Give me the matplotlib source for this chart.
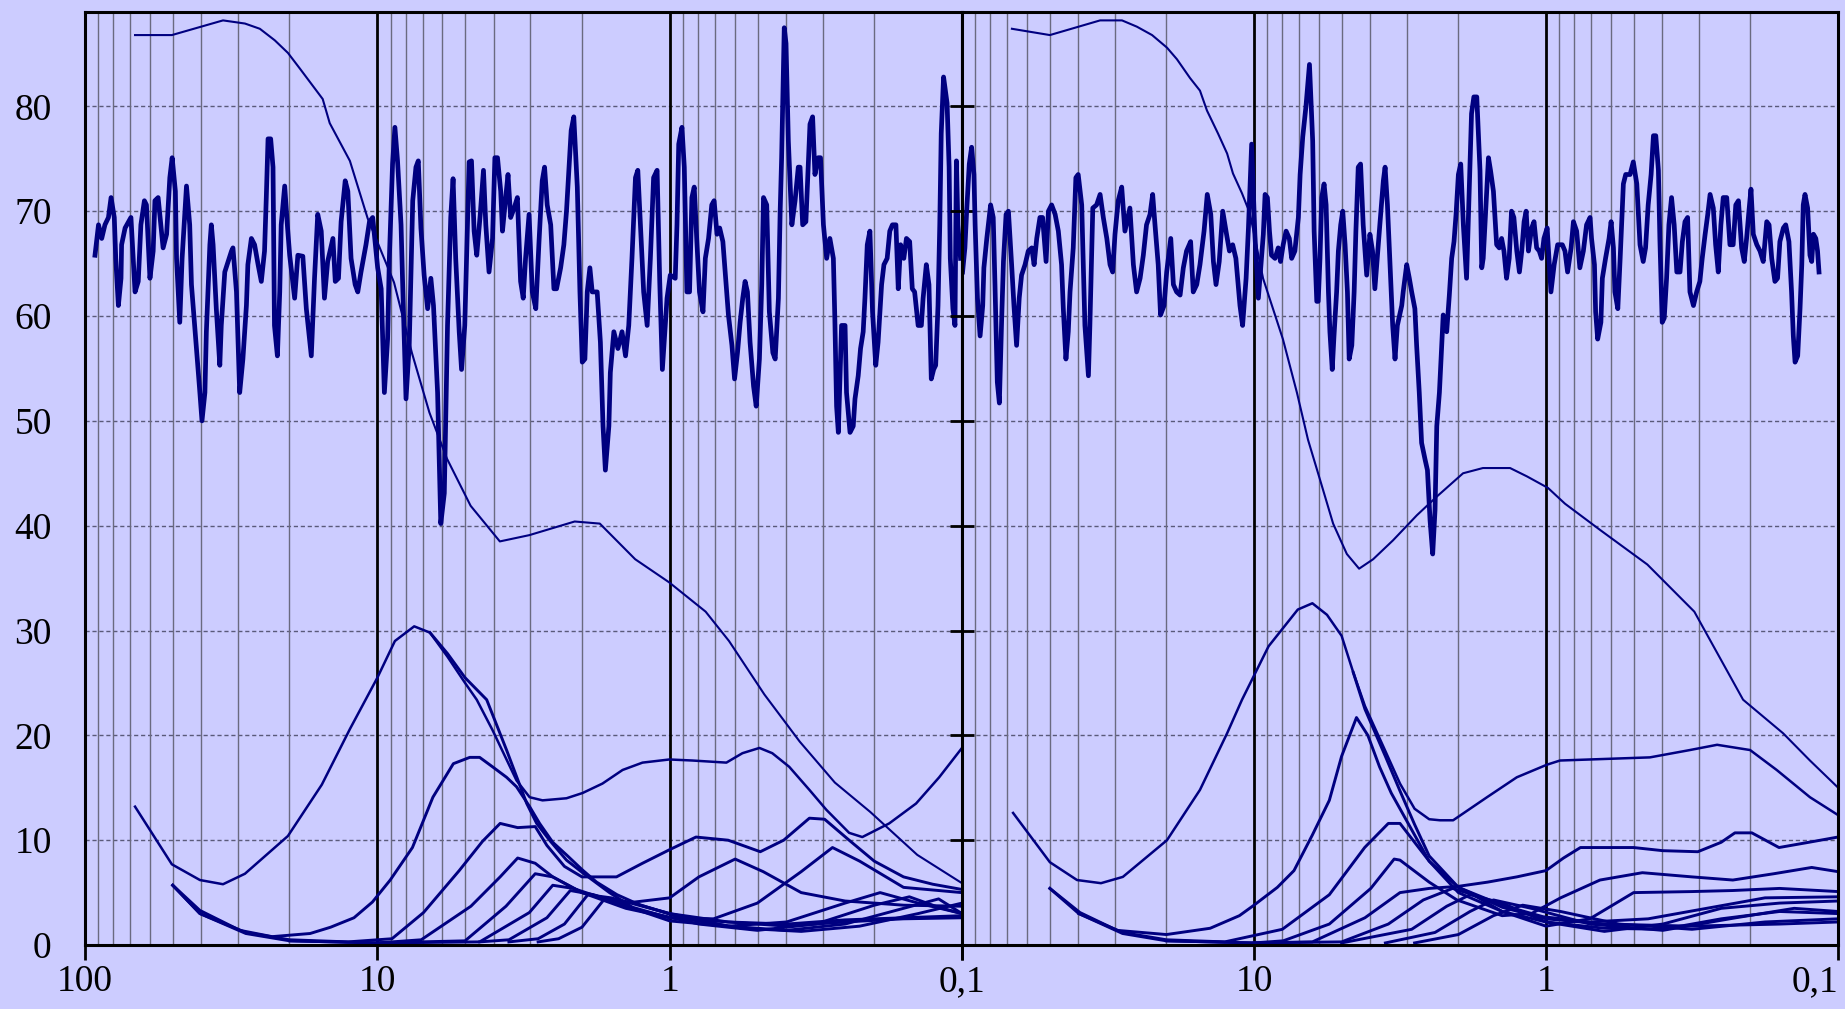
import matplotlib
matplotlib.use('Agg')
import matplotlib.pyplot as plt
import numpy as np

plt.rcParams['font.family'] = ['Liberation Serif', 'DejaVu Serif']

BG = '#CCCCFF'
NAVY = '#000080'

# all series: (log10 of x, value)
noise_left = [
    (1.966, 65.8), (1.954, 68.7), (1.943, 67.4), (1.932, 68.7), (1.920, 69.4), (1.911, 71.3), (1.900, 69.4),
    (1.895, 65.5), (1.886, 61.0), (1.877, 63.6), (1.875, 66.8), (1.863, 68.4), (1.843, 69.4), (1.829, 62.3),
    (1.818, 63.3), (1.809, 68.7), (1.797, 71.0), (1.790, 70.6), (1.778, 63.6), (1.767, 66.2), (1.761, 71.0),
    (1.750, 71.3), (1.733, 66.5), (1.721, 67.8), (1.710, 73.2), (1.702, 75.1), (1.691, 71.9), (1.687, 65.5),
    (1.676, 59.4), (1.668, 65.5), (1.653, 72.4), (1.642, 68.7), (1.636, 63.0), (1.625, 59.1), (1.608, 53.0),
    (1.600, 50.0), (1.590, 52.7), (1.585, 58.5), (1.573, 66.8), (1.568, 68.7), (1.562, 66.8), (1.551, 60.7),
    (1.539, 55.3), (1.534, 59.1), (1.522, 64.2), (1.499, 66.2), (1.494, 66.5), (1.482, 62.3), (1.471, 52.7),
    (1.460, 55.9), (1.448, 61.0), (1.443, 64.9), (1.431, 67.4), (1.420, 66.8), (1.408, 64.9), (1.397, 63.3),
    (1.386, 66.2), (1.380, 71.3), (1.374, 76.9), (1.365, 76.9), (1.357, 74.2), (1.352, 59.1), (1.342, 56.2),
    (1.334, 62.3), (1.329, 68.7), (1.317, 72.4), (1.308, 68.7), (1.300, 65.8), (1.283, 61.7), (1.272, 65.8),
    (1.255, 65.7), (1.243, 60.7), (1.226, 56.2), (1.215, 63.6), (1.204, 69.7), (1.192, 68.1), (1.181, 61.7),
    (1.170, 65.2), (1.152, 67.4), (1.144, 63.3), (1.133, 63.6), (1.124, 69.0), (1.110, 72.9), (1.101, 71.9),
    (1.090, 65.5), (1.076, 63.0), (1.067, 62.3), (1.056, 64.2), (1.039, 66.8), (1.027, 69.0), (1.016, 69.4),
    (0.999, 64.6), (0.987, 62.6), (0.976, 52.7), (0.965, 57.8), (0.959, 65.5), (0.948, 74.5), (0.940, 78.0),
    (0.931, 74.8), (0.919, 68.7), (0.914, 63.6), (0.902, 52.1), (0.891, 57.2), (0.879, 71.0), (0.868, 74.2),
    (0.860, 74.8), (0.851, 68.4), (0.840, 63.9), (0.828, 60.7), (0.817, 63.6), (0.808, 61.0), (0.794, 52.7),
    (0.783, 40.2), (0.771, 43.1), (0.760, 59.1), (0.749, 69.4), (0.741, 73.1), (0.732, 65.5), (0.720, 58.5),
    (0.712, 54.9), (0.701, 59.1), (0.692, 68.7), (0.686, 74.7), (0.678, 74.8), (0.669, 68.1), (0.660, 65.8),
    (0.648, 69.7), (0.637, 73.9), (0.629, 68.7), (0.618, 64.2), (0.606, 67.4), (0.598, 75.1), (0.589, 75.1),
    (0.578, 71.9), (0.572, 68.1), (0.561, 71.3), (0.553, 73.5), (0.544, 69.4), (0.532, 70.3), (0.521, 71.3),
    (0.510, 63.3), (0.501, 61.7), (0.493, 65.5), (0.481, 69.7), (0.470, 62.3), (0.458, 60.7), (0.447, 67.1),
    (0.436, 72.9), (0.428, 74.2), (0.419, 70.6), (0.407, 68.7), (0.396, 62.6), (0.387, 62.6), (0.373, 64.6),
    (0.362, 66.8), (0.353, 70.0), (0.345, 73.9), (0.337, 77.7), (0.328, 79.0), (0.316, 72.3), (0.307, 62.3),
    (0.299, 55.6), (0.290, 55.9), (0.282, 62.3), (0.273, 64.6), (0.265, 62.3), (0.248, 62.3), (0.237, 57.5),
    (0.228, 49.5), (0.220, 45.3), (0.208, 49.5), (0.203, 54.6), (0.191, 58.5), (0.177, 56.9), (0.163, 58.5),
    (0.151, 56.2), (0.140, 59.1), (0.129, 65.5), (0.117, 73.2), (0.109, 73.9), (0.100, 68.7), (0.089, 62.3),
    (0.077, 59.1), (0.066, 65.5), (0.055, 73.2), (0.043, 73.9), (0.034, 63.3), (0.025, 54.9),
    (0.009, 61.7), (-0.002, 63.9), (-0.019, 63.6), (-0.025, 68.7), (-0.031, 76.4), (-0.042, 78.0),
    (-0.050, 74.2), (-0.059, 62.3), (-0.068, 62.3), (-0.076, 71.3), (-0.084, 72.3), (-0.093, 67.1),
    (-0.102, 62.3), (-0.114, 60.4), (-0.122, 65.5), (-0.133, 67.4), (-0.144, 70.6), (-0.152, 71.0),
    (-0.162, 67.8), (-0.171, 68.4), (-0.182, 67.1), (-0.190, 64.2), (-0.201, 60.1), (-0.213, 57.2),
    (-0.222, 54.0), (-0.232, 56.5), (-0.241, 59.4), (-0.250, 61.7), (-0.258, 63.3), (-0.266, 62.3),
    (-0.275, 57.5), (-0.287, 53.3), (-0.296, 51.4), (-0.307, 55.9), (-0.315, 63.0), (-0.321, 71.3),
    (-0.332, 70.6), (-0.341, 60.4), (-0.353, 56.5), (-0.361, 55.9), (-0.372, 61.7), (-0.378, 70.0),
    (-0.383, 75.1), (-0.392, 87.5), (-0.398, 86.0), (-0.406, 76.7), (-0.418, 68.7), (-0.429, 71.0),
    (-0.440, 74.2), (-0.446, 74.2), (-0.455, 68.7), (-0.466, 69.0), (-0.480, 78.3), (-0.489, 79.0),
    (-0.497, 73.5), (-0.508, 75.1), (-0.516, 75.1), (-0.526, 68.7), (-0.537, 65.5), (-0.548, 67.4),
    (-0.560, 65.5), (-0.565, 59.8), (-0.571, 51.4), (-0.577, 48.9), (-0.588, 59.1), (-0.600, 59.1),
    (-0.605, 52.7), (-0.617, 48.9), (-0.628, 49.5), (-0.634, 52.1), (-0.645, 54.3), (-0.653, 56.9),
    (-0.662, 58.5), (-0.668, 61.7), (-0.676, 66.8), (-0.685, 68.1), (-0.694, 60.4), (-0.705, 55.3),
    (-0.713, 57.5), (-0.725, 63.0), (-0.733, 64.9), (-0.744, 65.5), (-0.753, 68.1), (-0.762, 68.7),
    (-0.774, 68.7), (-0.782, 62.6), (-0.790, 66.8), (-0.801, 65.5), (-0.810, 67.4), (-0.821, 67.1),
    (-0.830, 62.6), (-0.838, 62.3), (-0.850, 59.1), (-0.861, 59.1), (-0.867, 61.7), (-0.878, 64.9),
    (-0.887, 63.0), (-0.895, 54.0), (-0.903, 54.9), (-0.910, 55.3), (-0.918, 61.0), (-0.924, 68.7),
    (-0.929, 77.4), (-0.937, 82.8), (-0.949, 80.3), (-0.956, 74.2), (-0.960, 65.5), (-0.969, 60.7),
    (-0.976, 59.1), (-0.981, 74.8), (-0.986, 68.7), (-0.995, 65.5),
]

noise_right = [
    (1.998, 64.2), (1.990, 66.5), (1.984, 70.0), (1.975, 74.5), (1.967, 76.1), (1.959, 73.5), (1.955, 68.7),
    (1.947, 61.7), (1.938, 58.1), (1.929, 61.0), (1.925, 64.6), (1.915, 67.4), (1.902, 70.6), (1.893, 69.4),
    (1.887, 63.0), (1.879, 53.7), (1.872, 51.7), (1.864, 59.8), (1.858, 65.2), (1.849, 69.7), (1.841, 70.0),
    (1.830, 64.9), (1.822, 61.0), (1.813, 57.2), (1.804, 61.7), (1.796, 63.9), (1.784, 64.9), (1.773, 66.2),
    (1.761, 66.5), (1.753, 64.9), (1.744, 67.4), (1.733, 69.4), (1.724, 69.4), (1.712, 65.2), (1.704, 70.0),
    (1.693, 70.6), (1.681, 69.7), (1.670, 68.1), (1.659, 64.9), (1.653, 60.7), (1.644, 55.9), (1.636, 58.5),
    (1.630, 62.3), (1.619, 66.5), (1.610, 73.2), (1.602, 73.5), (1.590, 70.6), (1.579, 59.1), (1.567, 54.3),
    (1.562, 59.1), (1.552, 70.3), (1.539, 70.6), (1.527, 71.6), (1.516, 69.4), (1.504, 67.4), (1.493, 64.9),
    (1.484, 64.2), (1.476, 67.8), (1.465, 71.0), (1.453, 72.3), (1.442, 68.1), (1.425, 70.3), (1.413, 64.9),
    (1.402, 62.3), (1.390, 63.6), (1.379, 65.8), (1.368, 68.7), (1.356, 69.7), (1.347, 71.6), (1.339, 68.7),
    (1.328, 64.9), (1.320, 60.1), (1.308, 61.0), (1.299, 64.2), (1.285, 67.4), (1.276, 63.0), (1.265, 62.3),
    (1.253, 62.0), (1.242, 64.6), (1.231, 66.2), (1.217, 67.1), (1.208, 62.3), (1.196, 63.0), (1.185, 64.9),
    (1.171, 68.1), (1.160, 71.6), (1.148, 69.7), (1.139, 65.2), (1.130, 63.0), (1.119, 65.2), (1.107, 70.0),
    (1.094, 67.8), (1.084, 66.2), (1.073, 66.8), (1.062, 65.5), (1.048, 61.0), (1.039, 59.1), (1.027, 63.6),
    (1.019, 68.4), (1.008, 76.4),
    (0.997, 67.8), (0.985, 61.7), (0.977, 64.6), (0.968, 67.8), (0.962, 71.6), (0.954, 71.3), (0.947, 68.1),
    (0.940, 65.8), (0.928, 65.5), (0.917, 66.5), (0.909, 65.2), (0.900, 66.8), (0.890, 68.1), (0.879, 67.4),
    (0.871, 65.5), (0.860, 66.2), (0.848, 69.4), (0.842, 73.5), (0.833, 77.1), (0.822, 80.0), (0.810, 84.0),
    (0.799, 76.7), (0.794, 68.1), (0.785, 61.4), (0.780, 61.4), (0.774, 65.5), (0.768, 71.3), (0.760, 72.6),
    (0.753, 70.6), (0.745, 62.3), (0.740, 58.5), (0.732, 54.9), (0.726, 58.1), (0.717, 62.3), (0.711, 66.2),
    (0.703, 68.7), (0.696, 70.0), (0.688, 66.8), (0.680, 62.3), (0.674, 55.9), (0.665, 57.2), (0.657, 62.3),
    (0.651, 68.1), (0.643, 74.2), (0.635, 74.5), (0.626, 68.7), (0.614, 63.9), (0.603, 67.8), (0.594, 66.2),
    (0.586, 62.6), (0.578, 65.5), (0.569, 68.7), (0.557, 72.9), (0.551, 74.2), (0.543, 70.6), (0.534, 64.9),
    (0.525, 59.1), (0.517, 55.9), (0.509, 59.1), (0.494, 61.0), (0.489, 62.3), (0.477, 64.9), (0.468, 63.6),
    (0.460, 62.3), (0.449, 60.7), (0.443, 57.2), (0.434, 52.7), (0.426, 47.9), (0.414, 46.3), (0.406, 45.3),
    (0.397, 40.5), (0.388, 37.3), (0.380, 41.5), (0.374, 49.5), (0.365, 52.7), (0.357, 57.2), (0.352, 60.1),
    (0.340, 58.5), (0.331, 62.0), (0.323, 65.5), (0.315, 67.1), (0.308, 69.7), (0.300, 73.5), (0.292, 74.5),
    (0.283, 68.7), (0.272, 63.6), (0.263, 71.9), (0.255, 79.3), (0.247, 80.9), (0.237, 80.9), (0.226, 73.9),
    (0.220, 64.6), (0.215, 65.5), (0.206, 70.3), (0.197, 75.1), (0.190, 73.9), (0.180, 71.9), (0.169, 66.8),
    (0.160, 66.5), (0.152, 67.4), (0.144, 66.2), (0.135, 63.6), (0.126, 65.5), (0.118, 70.0), (0.110, 69.4),
    (0.100, 66.2), (0.091, 64.2), (0.083, 66.2), (0.075, 69.0), (0.068, 70.0), (0.060, 66.2), (0.049, 68.4),
    (0.041, 69.0), (0.032, 66.5), (0.023, 66.2), (0.015, 65.5), (0.007, 67.4), (-0.004, 68.4),
    (-0.017, 62.3), (-0.028, 64.9), (-0.040, 66.8), (-0.056, 66.8), (-0.065, 66.2), (-0.074, 64.2),
    (-0.086, 66.5), (-0.094, 69.0), (-0.105, 68.1), (-0.116, 64.6), (-0.128, 66.2), (-0.139, 68.7),
    (-0.151, 69.4), (-0.156, 67.4), (-0.166, 64.9), (-0.170, 60.4), (-0.177, 57.8), (-0.188, 59.4),
    (-0.193, 63.6), (-0.204, 65.5), (-0.216, 67.4), (-0.223, 69.0), (-0.231, 66.5), (-0.236, 62.3),
    (-0.246, 60.7), (-0.254, 65.5), (-0.265, 72.6), (-0.273, 73.5), (-0.288, 73.5), (-0.299, 74.7),
    (-0.311, 72.6), (-0.322, 66.8), (-0.333, 65.2), (-0.341, 66.5), (-0.350, 70.6), (-0.360, 73.5),
    (-0.368, 77.2), (-0.376, 77.2), (-0.385, 73.9), (-0.390, 67.4), (-0.398, 59.4), (-0.405, 59.8),
    (-0.413, 63.6), (-0.421, 68.7), (-0.430, 71.3), (-0.439, 68.7), (-0.448, 64.2), (-0.459, 64.2),
    (-0.467, 67.1), (-0.476, 69.0), (-0.485, 69.4), (-0.493, 62.3), (-0.505, 61.0), (-0.516, 62.3),
    (-0.527, 63.3), (-0.535, 65.5), (-0.545, 67.8), (-0.554, 69.7), (-0.562, 71.6), (-0.573, 70.3),
    (-0.581, 66.8), (-0.590, 64.2), (-0.599, 68.7), (-0.607, 71.3), (-0.619, 71.3), (-0.630, 66.8),
    (-0.641, 66.8), (-0.650, 70.6), (-0.659, 71.0), (-0.670, 66.5), (-0.679, 65.2), (-0.687, 67.4),
    (-0.695, 70.0), (-0.702, 72.1), (-0.710, 67.8), (-0.722, 66.8), (-0.733, 66.2), (-0.744, 65.2),
    (-0.756, 69.0), (-0.764, 68.7), (-0.773, 65.5), (-0.784, 63.3), (-0.793, 63.6), (-0.801, 67.1),
    (-0.813, 68.4), (-0.821, 68.7), (-0.832, 67.1), (-0.841, 62.3), (-0.847, 58.1), (-0.853, 55.6),
    (-0.862, 56.2), (-0.870, 60.7), (-0.876, 64.9), (-0.881, 70.6), (-0.887, 71.6), (-0.896, 70.3),
    (-0.904, 65.8), (-0.910, 65.2), (-0.916, 67.8), (-0.924, 67.4), (-0.930, 66.2), (-0.935, 64.2),
]

# smooth curves, left panel
big_left = [(1.829, 86.8), (1.703, 86.8), (1.528, 88.2), (1.453, 87.9), (1.402, 87.4), (1.351, 86.3),
            (1.306, 85.1), (1.265, 83.6), (1.187, 80.7), (1.163, 78.4), (1.094, 74.8), (1.033, 69.3),
            (0.943, 63.2), (0.882, 56.5), (0.822, 50.8), (0.762, 46.4), (0.681, 41.9), (0.581, 38.5),
            (0.480, 39.1), (0.325, 40.4), (0.239, 40.2), (0.118, 36.8), (0.002, 34.6), (-0.123, 31.8),
            (-0.203, 29.0), (-0.324, 23.9), (-0.445, 19.4), (-0.565, 15.5), (-0.686, 12.7), (-0.847, 8.6),
            (-1.0, 5.9)]
mode1_left = [(1.829, 13.2), (1.703, 7.7), (1.607, 6.2), (1.528, 5.8), (1.453, 6.8), (1.306, 10.4),
              (1.190, 15.3), (1.094, 20.6), (1.0, 25.5), (0.94, 29.0), (0.874, 30.4), (0.82, 29.8),
              (0.76, 27.5), (0.70, 25.0), (0.660, 23.4), (0.606, 20.5), (0.524, 15.7), (0.479, 14.1),
              (0.435, 13.8), (0.353, 14.0), (0.298, 14.5), (0.230, 15.4), (0.161, 16.7), (0.093, 17.4),
              (0.001, 17.7), (-0.078, 17.6), (-0.194, 17.4), (-0.249, 18.3), (-0.307, 18.8), (-0.351, 18.3),
              (-0.409, 17.0), (-0.478, 14.8), (-0.536, 12.9), (-0.614, 10.7), (-0.659, 10.3), (-0.751, 11.6),
              (-0.843, 13.5), (-0.922, 16.0), (-1.0, 18.8)]
mode1b_left = [(0.82, 29.8), (0.76, 27.8), (0.70, 25.5), (0.626, 23.4), (0.558, 18.6), (0.489, 13.5),
               (0.455, 11.6), (0.411, 10.0), (0.353, 8.1), (0.298, 6.9), (0.206, 5.0), (0.127, 3.6),
               (0.001, 2.6), (-0.2, 2.2), (-0.4, 2.0), (-0.6, 2.4), (-0.8, 2.6), (-1.0, 2.8)]
mode2_left = [(1.700, 5.7), (1.607, 3.3), (1.47, 1.4), (1.36, 0.8), (1.23, 1.1), (1.16, 1.7), (1.08, 2.6),
              (1.017, 4.1), (0.956, 6.2), (0.88, 9.3), (0.81, 14.1), (0.74, 17.3), (0.684, 17.9),
              (0.65, 17.9), (0.606, 17.0), (0.558, 16.0), (0.524, 15.1), (0.479, 13.2), (0.445, 11.6),
              (0.40, 9.8), (0.353, 8.6), (0.30, 7.2), (0.25, 6.0), (0.18, 4.8), (0.10, 3.8), (0.0, 3.0),
              (-0.2, 2.2), (-0.4, 1.8), (-0.6, 2.2), (-0.8, 2.5), (-1.0, 2.6)]
mode3_left = [(1.700, 5.7), (1.607, 3.0), (1.45, 1.2), (1.30, 0.5), (1.1, 0.3), (0.95, 0.6), (0.842, 3.1),
              (0.72, 7.1), (0.64, 9.9), (0.58, 11.6), (0.52, 11.2), (0.46, 11.3), (0.42, 9.5), (0.36, 7.5),
              (0.30, 6.5), (0.182, 6.5), (0.093, 7.8), (0.0, 9.1), (-0.09, 10.3), (-0.20, 10.0),
              (-0.31, 8.9), (-0.39, 10.0), (-0.478, 12.1), (-0.53, 12.0), (-0.614, 10.0), (-0.70, 8.0),
              (-0.8, 6.5), (-0.9, 5.8), (-1.0, 5.3)]
mode4_left = [(1.700, 5.7), (1.607, 3.0), (1.45, 1.1), (1.30, 0.4), (1.0, 0.2), (0.85, 0.5), (0.68, 3.7),
              (0.58, 6.5), (0.52, 8.3), (0.46, 7.8), (0.40, 6.5), (0.30, 5.0), (0.15, 4.0), (0.0, 4.5),
              (-0.1, 6.5), (-0.224, 8.2), (-0.32, 7.0), (-0.45, 5.0), (-0.6, 4.2), (-0.8, 3.8), (-1.0, 3.7)]
mode5_left = [(1.30, 0.4), (1.0, 0.2), (0.70, 0.4), (0.56, 3.7), (0.46, 6.8), (0.40, 6.5), (0.30, 5.0),
              (0.15, 3.5), (0.0, 2.6), (-0.15, 2.5), (-0.3, 4.0), (-0.45, 7.0), (-0.557, 9.3), (-0.65, 8.0),
              (-0.8, 5.5), (-1.0, 5.0)]
mode6_left = [(1.0, 0.2), (0.65, 0.3), (0.48, 3.1), (0.40, 5.7), (0.33, 5.4), (0.2, 4.2), (0.0, 2.3),
              (-0.2, 1.8), (-0.4, 2.2), (-0.6, 4.0), (-0.72, 5.0), (-0.85, 4.0), (-1.0, 3.0)]
mode7_left = [(0.65, 0.3), (0.55, 0.5), (0.42, 2.6), (0.34, 5.2), (0.26, 4.8), (0.1, 3.3), (-0.1, 2.0),
              (-0.3, 1.4), (-0.5, 2.0), (-0.7, 3.8), (-0.82, 4.6), (-0.92, 3.6), (-1.0, 3.0)]
mode8_left = [(0.55, 0.3), (0.45, 0.6), (0.36, 2.0), (0.28, 4.8), (0.2, 4.5), (0.0, 3.0), (-0.2, 1.8),
              (-0.4, 1.4), (-0.6, 2.0), (-0.8, 3.5), (-0.92, 4.4), (-1.0, 3.0)]
mode9_left = [(0.45, 0.3), (0.38, 0.6), (0.30, 1.7), (0.22, 4.5), (0.12, 4.0), (-0.05, 2.5), (-0.25, 1.6),
              (-0.45, 1.3), (-0.65, 1.8), (-0.85, 3.0), (-1.0, 4.0)]

# smooth curves, right panel
big_right = [(1.829, 87.4), (1.699, 86.8), (1.527, 88.2), (1.452, 88.2), (1.401, 87.6), (1.349, 86.8),
             (1.298, 85.6), (1.264, 84.5), (1.219, 82.7), (1.185, 81.5), (1.161, 79.6), (1.123, 77.4),
             (1.092, 75.5), (1.072, 73.6), (1.041, 71.7), (1.014, 69.8), (0.969, 63.6), (0.901, 57.8),
             (0.853, 52.7), (0.815, 48.2), (0.774, 44.4), (0.729, 40.2), (0.682, 37.3), (0.640, 35.9),
             (0.592, 36.8), (0.524, 38.6), (0.442, 41.0), (0.373, 42.8), (0.284, 45.0), (0.216, 45.5),
             (0.123, 45.5), (0.065, 44.7), (-0.007, 43.6), (-0.065, 42.1), (-0.185, 39.6), (-0.347, 36.3),
             (-0.508, 31.8), (-0.675, 23.4), (-0.812, 20.2), (-0.904, 17.6), (-0.997, 15.1)]
mode1_right = [(1.825, 12.6), (1.699, 7.9), (1.606, 6.2), (1.524, 5.9), (1.449, 6.5), (1.298, 10.0),
               (1.185, 14.8), (1.092, 20.2), (1.041, 23.4), (0.95, 28.5), (0.85, 32.0), (0.80, 32.6),
               (0.75, 31.5), (0.70, 29.5), (0.66, 26.0), (0.62, 22.8), (0.55, 18.5), (0.50, 15.4),
               (0.45, 13.0), (0.40, 12.0), (0.363, 11.9), (0.318, 11.9), (0.202, 14.1), (0.10, 16.0),
               (-0.003, 17.2), (-0.048, 17.6), (-0.356, 17.9), (-0.493, 18.6), (-0.586, 19.1),
               (-0.699, 18.6), (-0.79, 16.7), (-0.904, 14.1), (-1.0, 12.4)]
mode1b_right = [(0.66, 26.0), (0.62, 22.5), (0.55, 18.0), (0.50, 14.7), (0.45, 11.5), (0.40, 8.5),
                (0.30, 5.5), (0.15, 3.6), (0.0, 2.5), (-0.2, 2.0), (-0.5, 1.8), (-0.8, 2.0), (-1.0, 2.2)]
mode2_right = [(1.699, 5.4), (1.596, 3.1), (1.469, 1.4), (1.30, 1.0), (1.15, 1.6), (1.05, 2.8), (1.0, 3.8),
               (0.92, 5.5), (0.863, 7.1), (0.80, 10.5), (0.742, 13.8), (0.70, 18.0), (0.649, 21.7),
               (0.61, 20.0), (0.57, 17.0), (0.53, 14.5), (0.50, 13.0), (0.45, 10.5), (0.40, 8.0),
               (0.30, 5.0), (0.15, 3.2), (0.0, 2.2), (-0.2, 1.6), (-0.4, 1.5), (-0.6, 2.5), (-0.8, 3.2),
               (-1.0, 3.0)]
mode3_right = [(1.699, 5.4), (1.60, 3.0), (1.45, 1.2), (1.3, 0.5), (1.1, 0.3), (0.903, 1.5), (0.742, 4.8),
               (0.621, 9.3), (0.54, 11.6), (0.50, 11.6), (0.40, 8.0), (0.30, 5.5), (0.15, 3.8),
               (0.01, 2.7), (-0.15, 2.2), (-0.35, 2.5), (-0.55, 3.5), (-0.75, 4.5), (-1.0, 4.6)]
mode4_right = [(1.60, 3.0), (1.45, 1.1), (1.3, 0.4), (1.0, 0.2), (0.90, 0.4), (0.742, 2.0), (0.60, 5.4),
               (0.52, 8.2), (0.50, 8.1), (0.40, 6.0), (0.305, 4.3), (0.15, 2.8), (0.05, 3.0), (-0.05, 4.5),
               (-0.185, 6.2), (-0.33, 6.9), (-0.5, 6.5), (-0.64, 6.2), (-0.78, 6.8), (-0.91, 7.4),
               (-1.0, 7.0)]
mode5_right = [(1.3, 0.4), (1.0, 0.2), (0.80, 0.3), (0.62, 2.6), (0.50, 5.0), (0.40, 5.4), (0.30, 5.6),
               (0.20, 6.0), (0.10, 6.5), (0.0, 7.1), (-0.06, 8.3), (-0.118, 9.3), (-0.30, 9.3), (-0.40, 9.0),
               (-0.52, 8.9), (-0.60, 9.8), (-0.647, 10.7), (-0.705, 10.7), (-0.798, 9.3), (-0.90, 9.8),
               (-1.0, 10.3)]
mode6_right = [(1.0, 0.2), (0.70, 0.3), (0.54, 2.0), (0.42, 4.3), (0.32, 5.4), (0.25, 4.8), (0.15, 3.2),
               (0.0, 1.8), (-0.15, 2.5), (-0.30, 5.0), (-0.50, 5.1), (-0.64, 5.2), (-0.80, 5.4), (-1.0, 5.1)]
mode7_right = [(0.70, 0.2), (0.46, 1.5), (0.34, 3.7), (0.26, 4.8), (0.15, 4.0), (0.0, 2.2), (-0.2, 1.3),
               (-0.4, 2.0), (-0.6, 3.5), (-0.8, 4.0), (-1.0, 4.2)]
mode8_right = [(0.55, 0.2), (0.38, 1.2), (0.26, 3.2), (0.18, 4.3), (0.05, 3.5), (-0.15, 2.0), (-0.4, 1.4),
               (-0.65, 2.6), (-0.85, 3.5), (-1.0, 3.2)]
mode9_right = [(0.45, 0.2), (0.30, 1.0), (0.18, 2.8), (0.08, 3.8), (-0.05, 3.2), (-0.25, 2.0), (-0.5, 1.5),
               (-0.75, 2.2), (-1.0, 2.5)]

yticks = [0, 10, 20, 30, 40, 50, 60, 70, 80]
xticks = [100, 10, 1, 0.1]
xlabels_left = ['100', '10', '1', '0,1']
xlabels_right = ['', '10', '1', '0,1']


def draw(ax, pts, lw, **kw):
    a = np.array(pts)
    ax.plot(10 ** a[:, 0], a[:, 1], color=NAVY, lw=lw, solid_joinstyle='round', **kw)


fig = plt.figure(figsize=(18.45, 10.09), dpi=100, facecolor=BG)
axL = fig.add_axes([0.0461, 0.0634, 0.4753, 0.9247])
axR = fig.add_axes([0.5214, 0.0634, 0.4748, 0.9247])

minor = [m * 10.0 ** e for e in (-1, 0, 1) for m in range(2, 10)]
for ax, labels in ((axL, xlabels_left), (axR, xlabels_right)):
    ax.set_facecolor(BG)
    ax.set_xscale('log')
    ax.set_xlim(100, 0.1)
    ax.set_ylim(0, 89)
    ax.set_xticks(xticks)
    ax.set_xticklabels(labels)
    ax.set_xticks(minor, minor=True)
    ax.set_xticklabels([], minor=True)
    ax.set_yticks(yticks)
    ax.set_axisbelow(True)
    for y in yticks[1:]:
        ax.axhline(y, color='#5a5a7a', lw=1.0, ls=(0, (3, 2)), zorder=0.5)
    for x in minor:
        ax.axvline(x, color='#6a6a80', lw=1.0, zorder=0.5)
    for x in (10, 1):
        ax.axvline(x, color='black', lw=2.0, zorder=0.6)
    for s in ax.spines.values():
        s.set_color('black')
        s.set_linewidth(2.2)
    ax.tick_params(axis='x', which='major', direction='out', length=11, width=2, pad=3,
                   labelsize=27, colors='black')
    ax.tick_params(axis='x', which='minor', length=0)

# last label of the right panel sits against the figure edge
axR.get_xticklabels()[-1].set_horizontalalignment('right')

axL.spines['right'].set_visible(False)
axL.tick_params(axis='y', length=0, pad=24, labelsize=27)
axL.axvline(0.1, ymin=0.407, ymax=0.995, color='black', lw=2.2, zorder=0.6)
axR.tick_params(axis='y', direction='inout', length=17, width=2, labelleft=False)

draw(axL, noise_left, 3.4)
draw(axL, big_left, 1.5)
draw(axL, mode1_left, 1.8)
draw(axL, mode1b_left, 2.1)
for m in (mode2_left, mode3_left, mode4_left, mode5_left, mode6_left, mode7_left, mode8_left, mode9_left):
    draw(axL, m, 2.1)

draw(axR, noise_right, 3.4)
draw(axR, big_right, 1.5)
draw(axR, mode1_right, 1.8)
draw(axR, mode1b_right, 2.1)
for m in (mode2_right, mode3_right, mode4_right, mode5_right, mode6_right, mode7_right, mode8_right,
          mode9_right):
    draw(axR, m, 2.1)

fig.savefig('out.png', dpi=100, facecolor=BG)
